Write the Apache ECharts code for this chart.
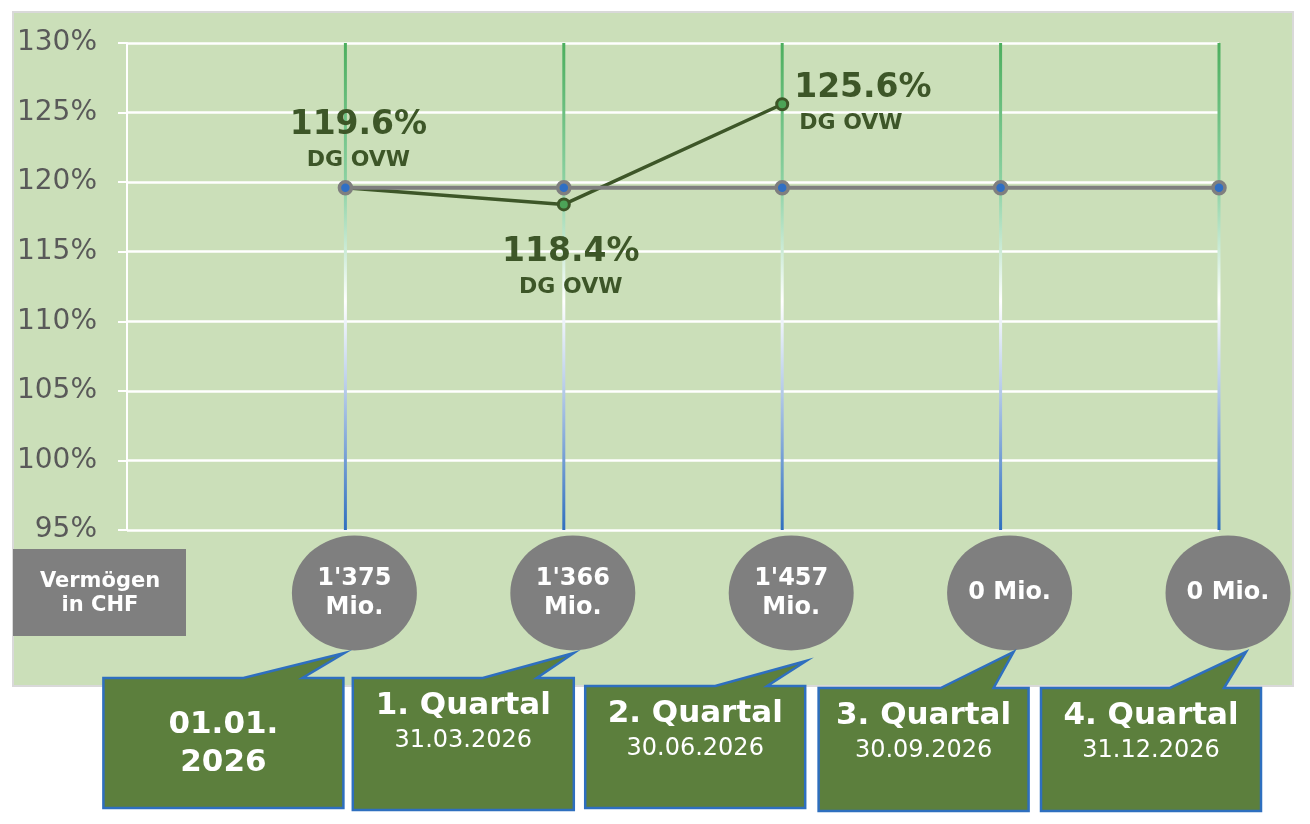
<!DOCTYPE html>
<html>
<head>
<meta charset="utf-8">
<script src="https://cdn.jsdelivr.net/npm/echarts@6/dist/echarts.min.js"></script>
<style>
  html, body { margin: 0; padding: 0; background: #ffffff; }
  #chart { width: 1310px; height: 824px; }
</style>
</head>
<body>
<div id="chart"></div>
<script>
// ---------------- DATA ----------------
const categoryTitles = ['01.01.\n2026', '1. Quartal', '2. Quartal', '3. Quartal', '4. Quartal'];
const categoryDates  = ['', '31.03.2026', '30.06.2026', '30.09.2026', '31.12.2026'];
const coverageRatio  = [119.6, 118.4, 125.6, null, null];      // Deckungsgrad (%)
const startRatio     = [119.6, 119.6, 119.6, 119.6, 119.6];    // Ausgangswert 01.01.
const assetsMio      = [1375, 1366, 1457, 0, 0];               // Vermögen in Mio. CHF
const ratioLabelName = 'DG OVW';
const assetsTitle    = 'Vermögen\nin CHF';
const yMin = 95, yMax = 130, yStep = 5;

// ---------------- LAYOUT / STYLE ----------------
const GREEN_DARK = '#3d5628';
const BG = '#cbdfb9';
const BOX_FILL = '#5c7f3d';
const BOX_STROKE = '#2e6fbf';

// label placement for the coverage ratio points
const RATIO_LABEL_LAYOUT = [
  { position: 'top', offset: [13, 2], align: 'center' },
  { position: 'bottom', offset: [7, 18], align: 'center' },
  { position: 'right', offset: [0, 1], align: 'left' }
];

// callout shapes (relative to the category x pixel; y in pixels)
const CALLOUT_LAYOUT = [
  { l: -242, r: -2,  bl: -102, br: -43, tx: -1, ty: 653, t: 678, b: 808 },
  { l: -211, r: 10,  bl: -81,  br: -27, tx: 10, ty: 653, t: 678, b: 810 },
  { l: -197, r: 23,  bl: -67,  br: -15, tx: 24, ty: 661, t: 686, b: 808 },
  { l: -182, r: 28,  bl: -60,  br: -7,  tx: 13, ty: 652, t: 688, b: 811 },
  { l: -178, r: 42,  bl: -49,  br: 5,   tx: 27, ty: 652, t: 688, b: 811 }
];

function fmtMio(v) {
  if (v >= 1000) {
    return Math.floor(v / 1000) + "'" + String(v % 1000).padStart(3, '0') + '\nMio.';
  }
  return v + ' Mio.';
}

const xIdx = categoryTitles.map((_, i) => i + 1);

const chart = echarts.init(document.getElementById('chart'), null, { renderer: 'canvas' });

const option = {
  backgroundColor: '#ffffff',
  animation: false,
  graphic: [
    {
      type: 'rect', z: -10, silent: true,
      shape: { x: 13, y: 12, width: 1280, height: 674 },
      style: { fill: BG, stroke: '#d9d9d9', lineWidth: 2 }
    },
    {
      type: 'group', silent: true,
      children: [
        { type: 'rect', shape: { x: 13, y: 549, width: 173, height: 87 }, style: { fill: '#7f7f7f' } },
        { type: 'text', style: {
            text: assetsTitle, x: 100, y: 594, align: 'center', verticalAlign: 'middle',
            fill: '#ffffff', fontFamily: '"DejaVu Sans"', fontWeight: 'bold', fontSize: 21, lineHeight: 24 } }
      ]
    }
  ],
  grid: [
    { left: 127, right: 91, top: 43, bottom: 294 },
    { left: 127, right: 91, top: 538, height: 110 }
  ],
  xAxis: [
    { type: 'value', gridIndex: 0, min: 0, max: 5, show: false },
    { type: 'value', gridIndex: 1, min: 0, max: 5, show: false }
  ],
  yAxis: [
    {
      type: 'value', gridIndex: 0, min: yMin, max: yMax, interval: yStep,
      axisLine: { show: true, lineStyle: { color: '#ffffff', width: 2 } },
      axisTick: { show: true, length: 9, lineStyle: { color: '#ffffff', width: 2 } },
      splitLine: { show: true, lineStyle: { color: '#ffffff', width: 2.5 } },
      axisLabel: {
        formatter: '{value}%', color: '#595959', fontSize: 28,
        fontFamily: '"DejaVu Sans"', margin: 30, padding: [8, 0, 0, 0]
      }
    },
    { type: 'value', gridIndex: 1, min: 0, max: 1, show: false }
  ],
  series: [
    {
      name: 'Kategorielinien',
      type: 'custom',
      xAxisIndex: 0, yAxisIndex: 0,
      z: 1,
      silent: true,
      data: xIdx.map(x => [x]),
      renderItem: function (params, api) {
        const top = api.coord([api.value(0), yMax]);
        const bot = api.coord([api.value(0), yMin]);
        return {
          type: 'rect',
          shape: { x: top[0] - 1.5, y: top[1], width: 3, height: bot[1] - top[1] },
          style: {
            fill: new echarts.graphic.LinearGradient(0, 0, 0, 1, [
              { offset: 0, color: '#4cae5e' },
              { offset: 0.3, color: '#8fd3a6' },
              { offset: 0.53, color: '#ffffff' },
              { offset: 0.72, color: '#b3c9e8' },
              { offset: 1, color: '#2f6fbf' }
            ])
          }
        };
      }
    },
    {
      name: 'Deckungsgrad',
      type: 'line',
      xAxisIndex: 0, yAxisIndex: 0,
      z: 3,
      data: coverageRatio.map((v, i) => {
        const lay = RATIO_LABEL_LAYOUT[i];
        const item = { value: [i + 1, v] };
        if (lay && v != null) {
          item.label = {
            show: true,
            position: lay.position,
            offset: lay.offset,
            align: lay.align,
            distance: 5,
            formatter: '{a|' + v.toFixed(1) + '%}\n{b|' + ratioLabelName + '}',
            rich: {
              a: { fontSize: 33, fontWeight: 'bold', color: GREEN_DARK, fontFamily: '"DejaVu Sans"', lineHeight: 36, align: lay.align },
              b: { fontSize: 22, fontWeight: 'bold', color: GREEN_DARK, fontFamily: '"DejaVu Sans"', lineHeight: 34, align: lay.align,
                   padding: lay.align === 'left' ? [0, 0, 0, 5] : [0, 0, 0, 0] }
            }
          };
        }
        return item;
      }),
      connectNulls: false,
      symbol: 'circle',
      symbolSize: 11,
      lineStyle: { color: GREEN_DARK, width: 3.5 },
      itemStyle: { color: '#4ca357', borderColor: GREEN_DARK, borderWidth: 3 }
    },
    {
      name: 'Ausgangswert',
      type: 'line',
      xAxisIndex: 0, yAxisIndex: 0,
      z: 4,
      data: startRatio.map((v, i) => [i + 1, v]),
      symbol: 'circle',
      symbolSize: 12,
      lineStyle: { color: '#7f7f7f', width: 4 },
      itemStyle: { color: '#2f6fc4', borderColor: '#7f7f7f', borderWidth: 3.5 }
    },
    {
      name: 'Vermögen',
      type: 'scatter',
      xAxisIndex: 1, yAxisIndex: 1,
      z: 5,
      data: assetsMio.map((v, i) => [i + 1, 0.5, v]),
      symbol: 'circle',
      symbolSize: [125, 115],
      symbolOffset: [9, 0],
      itemStyle: { color: '#7f7f7f', opacity: 1 },
      label: {
        show: true,
        position: 'inside',
        formatter: p => fmtMio(p.value[2]),
        color: '#ffffff',
        fontFamily: '"DejaVu Sans"',
        fontWeight: 'bold',
        fontSize: 24,
        lineHeight: 29
      }
    },
    {
      name: 'Stichtage',
      type: 'custom',
      xAxisIndex: 1, yAxisIndex: 1,
      z: 6,
      silent: true,
      data: xIdx.map(x => [x, 0]),
      renderItem: function (params, api) {
        const i = params.dataIndex;
        const L = CALLOUT_LAYOUT[i];
        const cx = api.coord([api.value(0), 0])[0];
        const pts = [
          [cx + L.l, L.t], [cx + L.bl, L.t], [cx + L.tx, L.ty], [cx + L.br, L.t],
          [cx + L.r, L.t], [cx + L.r, L.b], [cx + L.l, L.b]
        ];
        const mid = cx + (L.l + L.r) / 2;
        const children = [
          { type: 'polygon', shape: { points: pts }, style: { fill: BOX_FILL, stroke: BOX_STROKE, lineWidth: 2.5 } }
        ];
        const date = categoryDates[i];
        if (date) {
          children.push({
            type: 'text',
            style: { text: categoryTitles[i], x: mid, y: L.t + 28, align: 'center', verticalAlign: 'middle',
                     fill: '#ffffff', fontFamily: '"DejaVu Sans"', fontWeight: 'bold', fontSize: 31 }
          });
          children.push({
            type: 'text',
            style: { text: date, x: mid, y: L.t + 63, align: 'center', verticalAlign: 'middle',
                     fill: '#ffffff', fontFamily: '"DejaVu Sans"', fontSize: 24 }
          });
        } else {
          children.push({
            type: 'text',
            style: { text: categoryTitles[i], x: mid, y: L.t + 66, align: 'center', verticalAlign: 'middle',
                     fill: '#ffffff', fontFamily: '"DejaVu Sans"', fontWeight: 'bold', fontSize: 31, lineHeight: 38 }
          });
        }
        return { type: 'group', children: children };
      }
    }
  ]
};

chart.setOption(option);
</script>
</body>
</html>
